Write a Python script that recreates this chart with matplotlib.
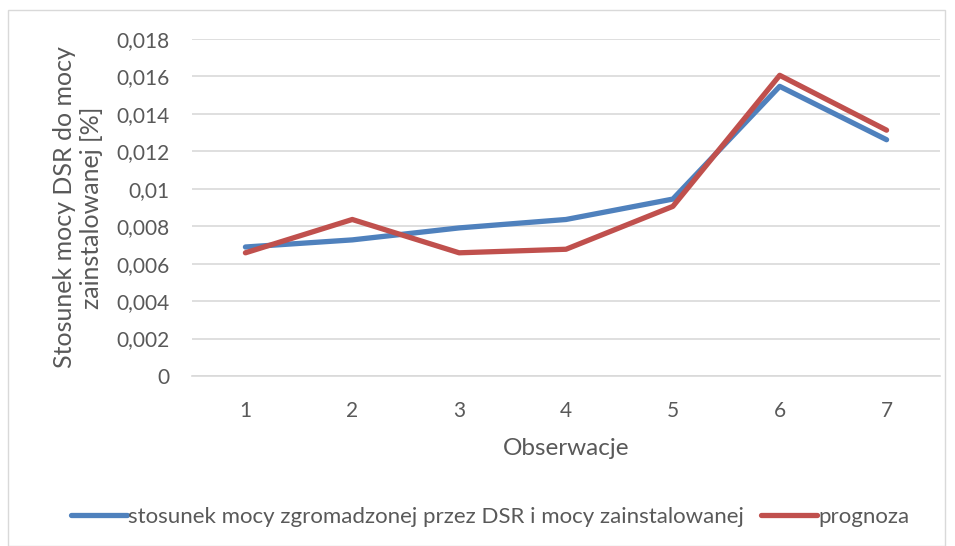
import matplotlib
matplotlib.use("Agg")
import matplotlib.pyplot as plt
from matplotlib.patches import Rectangle
from matplotlib.ticker import FuncFormatter

categories = [1, 2, 3, 4, 5, 6, 7]
actual = [0.00689, 0.00727, 0.00791, 0.00836, 0.00945, 0.01547, 0.01262]
forecast = [0.00658, 0.00836, 0.00658, 0.00677, 0.00906, 0.01606, 0.01313]
series_names = ["stosunek mocy zgromadzonej przez DSR i mocy zainstalowanej", "prognoza"]
yticks = [0, 0.002, 0.004, 0.006, 0.008, 0.01, 0.012, 0.014, 0.016, 0.018]

plt.rcParams['font.family'] = ['Lato', 'DejaVu Sans']
txt = '#595959'

fig = plt.figure(figsize=(9.55, 5.46), dpi=100)
ax = fig.add_axes([192/955, 1-376/546, (940-192)/955, (376-39)/546])

ax.plot(categories, actual, color='#4F81BD', lw=3.8, solid_capstyle='round', solid_joinstyle='round', label=series_names[0])
ax.plot(categories, forecast, color='#C0504D', lw=3.8, solid_capstyle='round', solid_joinstyle='round', label=series_names[1])

ax.set_xlim(0.5, 7.5)
ax.set_ylim(0, 0.018)
ax.set_yticks(yticks)
ax.set_xticks(categories)
ax.yaxis.set_major_formatter(FuncFormatter(lambda v, p: ('%g' % round(v, 3)).replace('.', ',')))
ax.grid(axis='y', color='#D9D9D9', lw=1.2)
ax.set_axisbelow(True)
for s in ['top', 'right', 'left']:
    ax.spines[s].set_visible(False)
ax.spines['bottom'].set_color('#D9D9D9')
ax.spines['bottom'].set_linewidth(1.2)
ax.tick_params(length=0, colors=txt, labelsize=15)
ax.tick_params(axis='y', pad=16)
ax.tick_params(axis='x', pad=18)
ax.set_xlabel('Obserwacje', color=txt, fontsize=17.5, labelpad=12)
ax.set_ylabel('Stosunek mocy DSR do mocy\nzainstalowanej [%]', color=txt, fontsize=18, labelpad=10, linespacing=1.2)

leg = fig.legend(loc='center', bbox_to_anchor=(490/955, 1-517/546), ncol=2, frameon=False,
                 fontsize=16, handlelength=2.5, handletextpad=0.05, columnspacing=0.8, labelcolor=txt)

fig.patches.append(Rectangle((8/955, 0), (945-8)/955, 1-10/546, transform=fig.transFigure,
                             fill=False, edgecolor='#D9D9D9', lw=1.0))

fig.savefig('out.png', dpi=100)
